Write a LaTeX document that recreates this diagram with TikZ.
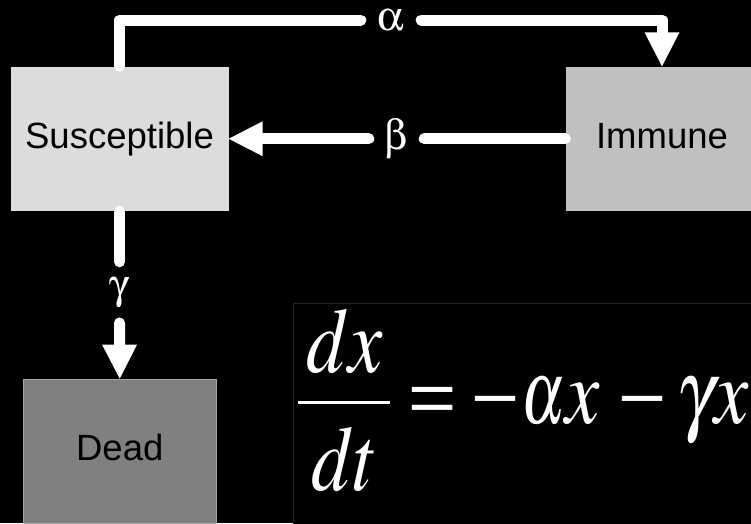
\documentclass[tikz,border=0pt]{standalone}
\usepackage{mathptmx}
\usepackage[Symbol]{upgreek}
\usepackage[no-math]{fontspec}
\setmainfont{Liberation Sans}
\newcommand\psyfont{\usefont{U}{psy}{m}{n}}
\usetikzlibrary{arrows.meta}
\definecolor{suscol}{HTML}{DCDCDC}
\definecolor{immcol}{HTML}{C0C0C0}
\definecolor{deadcol}{HTML}{808080}
\definecolor{eqborder}{HTML}{262626}
\begin{document}
\begin{tikzpicture}[x=1pt,y=-1pt,
  compartment/.style={rectangle, inner sep=0pt, text=black,
    font=\fontsize{36.5}{40}\selectfont, text height=26.6pt, text depth=7.7pt,
    minimum height=144.5pt},
  flow/.style={line width=11pt, white, line cap=round, line join=round},
  flowtip/.style={-{Triangle[length=34pt,width=35pt,line width=0pt]}},
  rate/.style={inner sep=0pt, text=white, font=\fontsize{42}{46}\selectfont},
  eqtext/.style={inner sep=0pt, text=white, font=\fontsize{77}{80}\selectfont}]
\clip (0,0) rectangle (751,523);
\fill[black] (0,0) rectangle (751,523);
% compartments
\node[compartment, fill=suscol, minimum width=218pt] (S) at (119.5,138.75) {Susceptible};
\node[compartment, fill=immcol, minimum width=193pt] (I) at (662,138.75) {Immune};
\node[compartment, fill=deadcol, draw=gray!70, line width=0.8pt, minimum width=193.5pt] (D) at (119.75,451.25) {Dead};
% rate labels
\node[rate, minimum width=60pt, minimum height=30pt] (a) at (391,20) {$\upalpha$};
\node[rate, minimum width=55pt, minimum height=40pt] (b) at (396.5,138.75) {$\upbeta$};
\node[rate, minimum width=30pt, minimum height=60.7pt] (g) at (119.5,292.35) {$\upgamma$};
% flows
\draw[flow] (S.north) |- (a.west);
\draw[flow, flowtip] (a.east) -| (I.north);
\draw[flow] (I.west) -- (b.east);
\draw[flow, flowtip] (b.west) -- (S.east);
\draw[flow] (S.south) -- (g.north);
\draw[flow, flowtip] (g.south) -- (D.north);
% equation panel
\node[draw=eqborder, fill=black, line width=1pt, inner sep=0pt, anchor=north west,
  minimum width=470pt, minimum height=230pt] (eqbox) at (292.5,303) {};
\node[eqtext, anchor=base] (num) at (345,372) {\scalebox{1}[1.2]{$dx$}};
\node[fill=white, inner sep=0pt, minimum width=92pt, minimum height=3.3pt] (bar) at (344,402.3) {};
\node[eqtext, anchor=base] (den) at (345,490) {\scalebox{1}[1.2]{$dt$}};
\node[eqtext, anchor=base west] (rhs) at (411,423) {\scalebox{1}[1.2]{{\psyfont=}\hspace{21pt}{\psyfont-}\hspace{5pt}\scalebox{0.8}[1]{$\alpha$}$x$\hspace{21pt}{\psyfont-}\hspace{13pt}$\gamma x$}};
\end{tikzpicture}
\end{document}
